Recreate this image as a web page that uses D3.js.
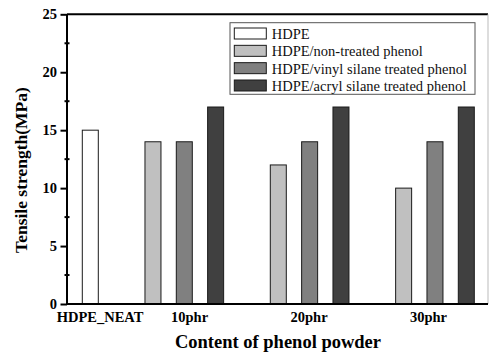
<!DOCTYPE html>
<html>
<head>
<meta charset="utf-8">
<script src="https://cdn.jsdelivr.net/npm/d3@7"></script>
<style>
  html, body { margin: 0; padding: 0; background: #fff; }
  svg { display: block; }
  svg text { font-family: "Liberation Serif", "Times New Roman", Times, serif !important; }
</style>
</head>
<body>
<svg id="chart" width="489" height="354"></svg>
<script>
// ---- data ----
const groups = ["HDPE_NEAT", "10phr", "20phr", "30phr"];
const seriesNames = [
  "HDPE",
  "HDPE/non-treated phenol",
  "HDPE/vinyl silane treated phenol",
  "HDPE/acryl silane treated phenol"
];
const hdpe = [15, null, null, null];
const nonTreated = [null, 14, 12, 10];
const vinylSilane = [null, 14, 14, 14];
const acrylSilane = [null, 17, 17, 17];
const yTicks = [0, 5, 10, 15, 20, 25];
const yMinorTicks = [2.5, 7.5, 12.5, 17.5, 22.5];
const seriesColors = ["#ffffff", "#c0c0c0", "#808080", "#404040"];

const seriesValues = [hdpe, nonTreated, vinylSilane, acrylSilane];

// ---- layout: bars placed in consecutive slots, one empty slot between groups ----
const bars = [];
const groupSlots = [];
let slot = 0;
groups.forEach((g, gi) => {
  const slotsHere = [];
  seriesValues.forEach((vals, si) => {
    if (vals[gi] != null) {
      bars.push({ group: g, gi, si, value: vals[gi], slot });
      slotsHere.push(slot);
      slot++;
    }
  });
  groupSlots.push({ group: g, first: slotsHere[0] });
  slot++; // gap
});
const lastSlot = slot - 2;

const svg = d3.select("#chart");
const plot = { left: 67, right: 488, top: 14.3, bottom: 304 };

const x = d3.scaleLinear().domain([0, lastSlot]).range([90.3, 466.3]);
const barW = 16;
const y = d3.scaleLinear().domain([0, 25]).range([plot.bottom, plot.top]);
// category label scale (labels sit slightly off the bar clusters, as in the original)
const xLabel = d3.scaleLinear().domain([0, groupSlots[groupSlots.length - 1].first + 1]).range([100, 428.5]);

// bars
svg.append("g").selectAll("rect").data(bars).join("rect")
  .attr("x", d => x(d.slot) - barW / 2)
  .attr("y", d => y(d.value))
  .attr("width", barW)
  .attr("height", d => y(0) - y(d.value))
  .attr("fill", d => seriesColors[d.si])
  .attr("stroke", "#1a1a1a")
  .attr("stroke-width", 1);

// frame: top and right
svg.append("line").attr("x1", plot.left).attr("x2", plot.right)
  .attr("y1", plot.top).attr("y2", plot.top)
  .attr("stroke", "#000").attr("stroke-width", 2);
svg.append("line").attr("x1", plot.right).attr("x2", plot.right)
  .attr("y1", plot.top).attr("y2", plot.bottom)
  .attr("stroke", "#bbb").attr("stroke-width", 1);

// y axis
const yAxis = svg.append("g")
  .attr("transform", `translate(${plot.left},0)`)
  .call(d3.axisLeft(y).tickValues(yTicks).tickSize(6.5).tickPadding(3.5).tickFormat(d3.format("d")));
yAxis.attr("font-family", "Liberation Serif").attr("font-size", 14.5);
yAxis.select(".domain").attr("stroke", "#000").attr("stroke-width", 2)
  .attr("d", `M0,${plot.top}V${plot.bottom}`);
yAxis.selectAll(".tick line").attr("stroke", "#000").attr("stroke-width", 2);
yAxis.selectAll(".tick text")
  .attr("font-weight", "bold").attr("fill", "#000");

// minor ticks
svg.append("g").selectAll("line").data(yMinorTicks).join("line")
  .attr("x1", plot.left - 2.5).attr("x2", plot.left + 2.5)
  .attr("y1", d => y(d)).attr("y2", d => y(d))
  .attr("stroke", "#000").attr("stroke-width", 2);

// x axis line
svg.append("line").attr("x1", plot.left - 1).attr("x2", plot.right)
  .attr("y1", plot.bottom).attr("y2", plot.bottom)
  .attr("stroke", "#000").attr("stroke-width", 2);

// x labels
svg.append("g").selectAll("text").data(groupSlots).join("text")
  .attr("x", (d, i) => xLabel(i === 0 ? 0 : d.first + 1))
  .attr("y", 321.5)
  .attr("text-anchor", "middle")
  .attr("font-weight", "bold").attr("font-size", 14.5)
  .text(d => d.group);

// axis titles
svg.append("text")
  .attr("x", 278).attr("y", 347.5)
  .attr("text-anchor", "middle")
  .attr("font-weight", "bold").attr("font-size", 18.5)
  .text("Content of phenol powder");

svg.append("text")
  .attr("transform", "translate(27,170) rotate(-90)")
  .attr("text-anchor", "middle")
  .attr("font-weight", "bold").attr("font-size", 17.5)
  .text("Tensile strength(MPa)");

// legend
const legend = svg.append("g");
legend.append("rect")
  .attr("x", 230).attr("y", 22.7).attr("width", 245).attr("height", 71.6)
  .attr("fill", "#fff").attr("stroke", "#555").attr("stroke-width", 1);
const rowY = d3.scaleLinear().domain([0, 3]).range([28, 80]);
const items = legend.selectAll("g.item").data(seriesNames).join("g").attr("class", "item")
  .attr("transform", (d, i) => `translate(234.3,${rowY(i)})`);
items.append("rect")
  .attr("width", 32).attr("height", 11)
  .attr("fill", (d, i) => seriesColors[i])
  .attr("stroke", "#1a1a1a").attr("stroke-width", 1);
items.append("text")
  .attr("x", 37.4).attr("y", 11)
  .attr("font-size", 14.5).attr("fill", "#111")
  .text(d => d);
</script>
</body>
</html>
